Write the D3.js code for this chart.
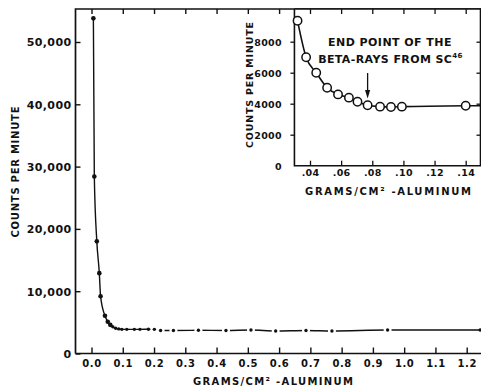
<!DOCTYPE html>
<html><head><meta charset="utf-8">
<script src="https://cdn.jsdelivr.net/npm/d3@7"></script>
<style>
html,body{margin:0;padding:0;background:#fff;}
svg{display:block;}
text{font-family:"DejaVu Sans",sans-serif;font-weight:bold;fill:#111;}
</style></head>
<body>
<svg id="c" width="481" height="388"></svg>
<script>
// ---- data ----
const mainX = [0.006, 0.009, 0.017, 0.025, 0.029, 0.043, 0.052, 0.060, 0.068, 0.077, 0.087,
  0.097, 0.113, 0.137, 0.155, 0.182, 0.201, 0.221, 0.262, 0.342, 0.430, 0.510, 0.589, 0.686, 0.769, 0.947, 1.243];
const mainY = [53800, 28400, 18000, 12900, 9200, 6050, 5100, 4600, 4300, 4050, 3950,
  3880, 3880, 3880, 3880, 3900, 3880, 3700, 3700, 3720, 3700, 3770, 3620, 3700, 3620, 3770, 3770];
const insetX = [0.032, 0.0375, 0.044, 0.051, 0.058, 0.065, 0.0705, 0.077, 0.085, 0.092, 0.099, 0.140];
const insetY = [9350, 7000, 6000, 5030, 4600, 4390, 4130, 3900, 3810, 3790, 3810, 3870];
const mainXTicks = [0.0, 0.1, 0.2, 0.3, 0.4, 0.5, 0.6, 0.7, 0.8, 0.9, 1.0, 1.1, 1.2];
const mainYTicks = [0, 10000, 20000, 30000, 40000, 50000];
const insetXTicks = [0.04, 0.06, 0.08, 0.10, 0.12, 0.14];
const insetYTicks = [0, 2000, 4000, 6000, 8000];
const axisTitle = "GRAMS/CM² -ALUMINUM";
const yTitle = "COUNTS PER MINUTE";
const note1 = "END POINT OF THE";
const note2 = "BETA-RAYS FROM SC";
const noteSup = "46";
const arrowAt = 0.077;

const svg = d3.select("#c");
const ink = "#111";

// ---- main chart scales ----
const x = d3.scaleLinear().domain([0, 1.2]).range([91.5, 466.7]);
const y = d3.scaleLinear().domain([0, 50000]).range([353.5, 42]);
const L = 75.5, R = 481, T = 9, B = y(0);

// frame
svg.append("path").attr("d", `M${L},${B}V${T}H${R}M${L},${B}H${R}`)
  .attr("fill", "none").attr("stroke", ink).attr("stroke-width", 1.7);

const gx = svg.append("g").attr("transform", `translate(0,${B})`)
  .call(d3.axisBottom(x).tickValues(mainXTicks).tickSize(-6).tickPadding(6).tickFormat(d3.format(".1f")));
const gxTop = svg.append("g").attr("transform", `translate(0,${T})`)
  .call(d3.axisTop(x).tickValues(mainXTicks).tickSize(-5).tickFormat(""));
const gy = svg.append("g").attr("transform", `translate(${L},0)`)
  .call(d3.axisLeft(y).tickValues(mainYTicks).tickSize(-5).tickPadding(4).tickFormat(d3.format(",")));
[gx, gxTop, gy].forEach(g => {
  g.select(".domain").remove();
  g.selectAll("line").attr("stroke", ink).attr("stroke-width", 1.4);
  g.selectAll("text").attr("font-family", "DejaVu Sans").attr("font-weight", "bold").attr("fill", ink);
});
gx.selectAll("text").attr("font-size", 10).attr("letter-spacing", 0.6);
gy.selectAll("text").attr("font-size", 11).attr("letter-spacing", 0.4).attr("dy", "0.36em");

// titles
svg.append("text").attr("x", 273).attr("y", 384.5).attr("text-anchor", "middle")
  .attr("font-size", 10).attr("textLength", 160).attr("lengthAdjust", "spacing").text(axisTitle);
svg.append("text").attr("transform", "translate(18.5,172) rotate(-90)").attr("text-anchor", "middle")
  .attr("font-size", 10).attr("textLength", 131).attr("lengthAdjust", "spacing").text(yTitle);

// main curve
const mainPts = mainX.map((d, i) => [d, mainY[i]]);
const line = d3.line().x(d => x(d[0])).y(d => y(d[1])).curve(d3.curveMonotoneX);
svg.append("path").attr("d", line(mainPts)).attr("fill", "none").attr("stroke", ink).attr("stroke-width", 1.4);
// small gaps around the tail dots
svg.append("g").selectAll("circle").data(mainPts.filter(d => d[0] > 0.2 && d[0] < 1.2)).join("circle")
  .attr("cx", d => x(d[0])).attr("cy", d => y(d[1])).attr("r", 4).attr("fill", "#fff");
svg.append("g").selectAll("circle").data(mainPts).join("circle")
  .attr("cx", d => x(d[0])).attr("cy", d => y(d[1]))
  .attr("r", d => d[1] > 4500 ? 2.3 : 1.7).attr("fill", ink);

// ---- inset ----
const ix = d3.scaleLinear().domain([0.04, 0.14]).range([310, 465.7]);
const iy = d3.scaleLinear().domain([0, 8000]).range([165.7, 41.7]);
const iL = ix(0.03), iR = 480.5, iB = iy(0);
svg.append("rect").attr("x", iL).attr("y", T).attr("width", iR - iL).attr("height", iB - T).attr("fill", "#fff");
svg.append("path").attr("d", `M${iL},${T}V${iB}H${iR}V${T}H${iL}`)
  .attr("fill", "none").attr("stroke", ink).attr("stroke-width", 1.6);

const ig = svg.append("g").attr("transform", `translate(0,${iB})`)
  .call(d3.axisBottom(ix).tickValues(insetXTicks).tickSize(-5).tickPadding(4)
    .tickFormat(d => d3.format(".2f")(d).replace(/^0/, "")));
const igTop = svg.append("g").attr("transform", `translate(0,${T})`)
  .call(d3.axisTop(ix).tickValues(insetXTicks).tickSize(-5).tickFormat(""));
const igy = svg.append("g").attr("transform", `translate(${iL},0)`)
  .call(d3.axisLeft(iy).tickValues(insetYTicks).tickSize(4).tickPadding(8.5).tickFormat(d3.format("d")));
const igyR = svg.append("g").attr("transform", `translate(${iR},0)`)
  .call(d3.axisRight(iy).tickValues(insetYTicks.filter(d => d > 0)).tickSize(-4).tickFormat(""));
[ig, igTop, igy, igyR].forEach(g => {
  g.select(".domain").remove();
  g.selectAll("line").attr("stroke", ink).attr("stroke-width", 1.3);
  g.selectAll("text").attr("font-family", "DejaVu Sans").attr("font-weight", "bold").attr("fill", ink)
    .attr("font-size", 9.5).attr("letter-spacing", 0.3);
});
igy.selectAll("line").filter(d => d === 0).remove();
igy.selectAll("text").attr("dy", "0.36em");

svg.append("text").attr("x", 388).attr("y", 195).attr("text-anchor", "middle")
  .attr("font-size", 10).attr("textLength", 166).attr("lengthAdjust", "spacing").text(axisTitle);
svg.append("text").attr("transform", "translate(253,85) rotate(-90)").attr("text-anchor", "middle")
  .attr("font-size", 9.5).attr("textLength", 126).attr("lengthAdjust", "spacing").text(yTitle);

const insetPts = insetX.map((d, i) => [d, insetY[i]]);
const iline = d3.line().x(d => ix(d[0])).y(d => iy(d[1])).curve(d3.curveMonotoneX);
svg.append("path").attr("d", iline(insetPts) + `H${iR}`).attr("fill", "none").attr("stroke", ink).attr("stroke-width", 1.6);
svg.append("g").selectAll("circle").data(insetPts).join("circle")
  .attr("cx", d => ix(d[0])).attr("cy", d => iy(d[1])).attr("r", 4.2)
  .attr("fill", "#fff").attr("stroke", ink).attr("stroke-width", 1.5);

// annotation
svg.append("text").attr("x", 390).attr("y", 46).attr("text-anchor", "middle")
  .attr("font-size", 11).attr("letter-spacing", 0.45).text(note1);
const t2 = svg.append("text").attr("x", 390.5).attr("y", 62.5).attr("text-anchor", "middle")
  .attr("font-size", 11).attr("letter-spacing", 0.4);
t2.append("tspan").text(note2);
t2.append("tspan").attr("font-size", 7).attr("dy", -4.5).text(noteSup);
const ax = ix(arrowAt);
svg.append("line").attr("x1", ax).attr("x2", ax).attr("y1", 73).attr("y2", 91)
  .attr("stroke", ink).attr("stroke-width", 1.3);
svg.append("path").attr("d", `M${ax - 2.6},${90}L${ax + 2.6},${90}L${ax},${98.5}Z`).attr("fill", ink);
</script>
</body></html>
